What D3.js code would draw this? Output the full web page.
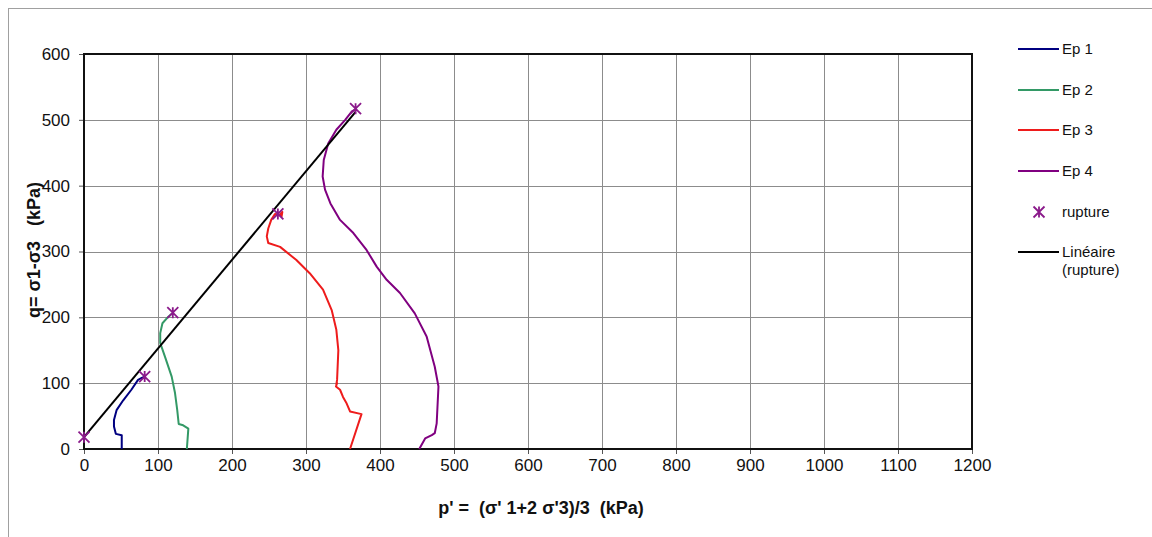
<!DOCTYPE html>
<html><head><meta charset="utf-8">
<script src="https://cdn.jsdelivr.net/npm/d3@7"></script>
<style>
html,body{margin:0;padding:0;background:#fff;}
svg{display:block;font-family:"Liberation Sans",Arial,sans-serif;}
text{white-space:pre;}
</style></head>
<body><svg id="c" width="1152" height="537"></svg>
<script>
// ---- data ----
const xTicks = [0,100,200,300,400,500,600,700,800,900,1000,1100,1200];
const yTicks = [0,100,200,300,400,500,600];
const seriesNames = ["Ep 1","Ep 2","Ep 3","Ep 4"];
const seriesColors = ["#000080","#339966","#ee1c1c","#800080"];
const ep1 = [[51,0],[51,21],[43,23],[40.5,34],[40.5,44],[44,59],[53,74],[64,90],[73,105],[78,108],[82,110]];
const ep2 = [[139,0],[141,31],[134,36],[128,38],[126,59],[123,85],[118.5,110],[109.5,140],[103,161],[103,176],[106,191],[114,201],[119,206]];
const ep3 = [[359.5,0],[375,53],[359.5,57],[355,69],[350,79],[346,90],[340.5,95],[342,100],[341,98],[342,105],[343.7,150],[341,181],[334.7,211],[323,242],[305,267],[287,287],[265,307],[249,313],[247,323],[249,335],[253,348],[258,357],[265,356],[267,353],[268,360],[264,355],[262,357]];
const ep4 = [[453,0],[461,16],[470,21],[474,24],[476.6,39],[479,95],[474,125],[463,171],[447,206],[427,237],[409,257],[395.5,277],[382,302],[364,328],[346,348],[333,373],[325.7,394],[322.5,414],[324,439],[330,464],[341,485],[353,500],[362,513],[367,516]];
const rupture = [[0,18],[82,110],[120,207],[262,357],[367,517]];
const xTitle = "p' =  (σ' 1+2 σ'3)/3  (kPa)";
const yTitle = "q= σ1-σ3   (kPa)";
const legendLabels = ["Ep 1","Ep 2","Ep 3","Ep 4","rupture","Linéaire","(rupture)"];

// ---- layout ----
const svg = d3.select("#c");
const L=84, R=972, T=54, B=449;
const x = d3.scaleLinear().domain([0,1200]).range([L,R]);
const y = d3.scaleLinear().domain([0,600]).range([B,T]);

// outer frame
svg.append("rect").attr("x",8.5).attr("y",8.5).attr("width",1160).attr("height",560)
  .attr("fill","none").attr("stroke","#a0a0a0").attr("stroke-width",1);

// grid
const g = svg.append("g");
g.selectAll(".gx").data(xTicks.slice(1,-1)).join("line")
  .attr("x1",d=>Math.round(x(d))+0.5).attr("x2",d=>Math.round(x(d))+0.5)
  .attr("y1",T).attr("y2",B).attr("stroke","#8c8c8c").attr("stroke-width",1);
g.selectAll(".gy").data(yTicks.slice(1,-1)).join("line")
  .attr("y1",d=>Math.round(y(d))+0.5).attr("y2",d=>Math.round(y(d))+0.5)
  .attr("x1",L).attr("x2",R).attr("stroke","#8c8c8c").attr("stroke-width",1);

// axes
const xAxis = d3.axisBottom(x).tickValues(xTicks).tickSize(5).tickPadding(5).tickFormat(d3.format("d"));
const yAxis = d3.axisLeft(y).tickValues(yTicks).tickSize(5).tickPadding(9).tickFormat(d3.format("d"));
const gx = svg.append("g").attr("transform",`translate(0,${B})`).call(xAxis);
const gy = svg.append("g").attr("transform",`translate(${L},0)`).call(yAxis);
[gx,gy].forEach(a=>{
  a.select(".domain").remove();
  a.selectAll(".tick line").attr("stroke","#555");
  a.selectAll(".tick text").attr("font-size",17).attr("fill","#111")
    .style("font-family","'Liberation Sans',Arial,sans-serif");
});

// plot frame
svg.append("rect").attr("x",L).attr("y",T).attr("width",R-L).attr("height",B-T)
  .attr("fill","none").attr("stroke","#111").attr("stroke-width",2);

// series
const line = d3.line().x(d=>x(d[0])).y(d=>y(d[1]));
[ep1,ep2,ep3,ep4].forEach((s,i)=>{
  svg.append("path").datum(s).attr("d",line).attr("fill","none")
    .attr("stroke",seriesColors[i]).attr("stroke-width",2).attr("stroke-linejoin","round");
});

// linear trend of rupture points (least squares)
const mx = d3.mean(rupture,d=>d[0]), my = d3.mean(rupture,d=>d[1]);
const slope = d3.sum(rupture,d=>(d[0]-mx)*(d[1]-my))/d3.sum(rupture,d=>(d[0]-mx)**2);
const icpt = my - slope*mx;
const [x0,x1] = d3.extent(rupture,d=>d[0]);
svg.append("line").attr("x1",x(x0)).attr("y1",y(icpt+slope*x0))
  .attr("x2",x(x1)).attr("y2",y(icpt+slope*x1)).attr("stroke","#000").attr("stroke-width",2);

// star markers
function star(sel, cx, cy){
  const r=5.5;
  const p = `M${cx-r},${cy-r}L${cx+r},${cy+r}M${cx-r},${cy+r}L${cx+r},${cy-r}M${cx},${cy-r}L${cx},${cy+r}`;
  sel.append("path").attr("d",p).attr("stroke","#8b1a8b").attr("stroke-width",1.8).attr("fill","none");
}
rupture.forEach(d=>star(svg, x(d[0]), y(d[1])));

// titles
svg.append("text").attr("x",541).attr("y",514).attr("text-anchor","middle")
  .attr("font-size",18).attr("font-weight","bold").attr("fill","#111").text(xTitle);
svg.append("text").attr("transform","translate(40,250) rotate(-90)").attr("text-anchor","middle")
  .attr("font-size",18).attr("font-weight","bold").attr("fill","#111").text(yTitle);

// legend
const lg = svg.append("g");
const rowsY = [49,90,130,171];
seriesNames.forEach((n,i)=>{
  lg.append("line").attr("x1",1018).attr("x2",1059).attr("y1",rowsY[i]).attr("y2",rowsY[i])
    .attr("stroke",seriesColors[i]).attr("stroke-width",2);
  lg.append("text").attr("x",1062).attr("y",rowsY[i]+5).attr("font-size",15).attr("fill","#111").text(legendLabels[i]);
});
star(lg,1039,212);
lg.append("text").attr("x",1062).attr("y",217).attr("font-size",15).attr("fill","#111").text(legendLabels[4]);
lg.append("line").attr("x1",1018).attr("x2",1059).attr("y1",252).attr("y2",252).attr("stroke","#000").attr("stroke-width",2);
lg.append("text").attr("x",1062).attr("y",257).attr("font-size",15).attr("fill","#111").text(legendLabels[5]);
lg.append("text").attr("x",1062).attr("y",275).attr("font-size",15).attr("fill","#111").text(legendLabels[6]);
</script></body></html>
